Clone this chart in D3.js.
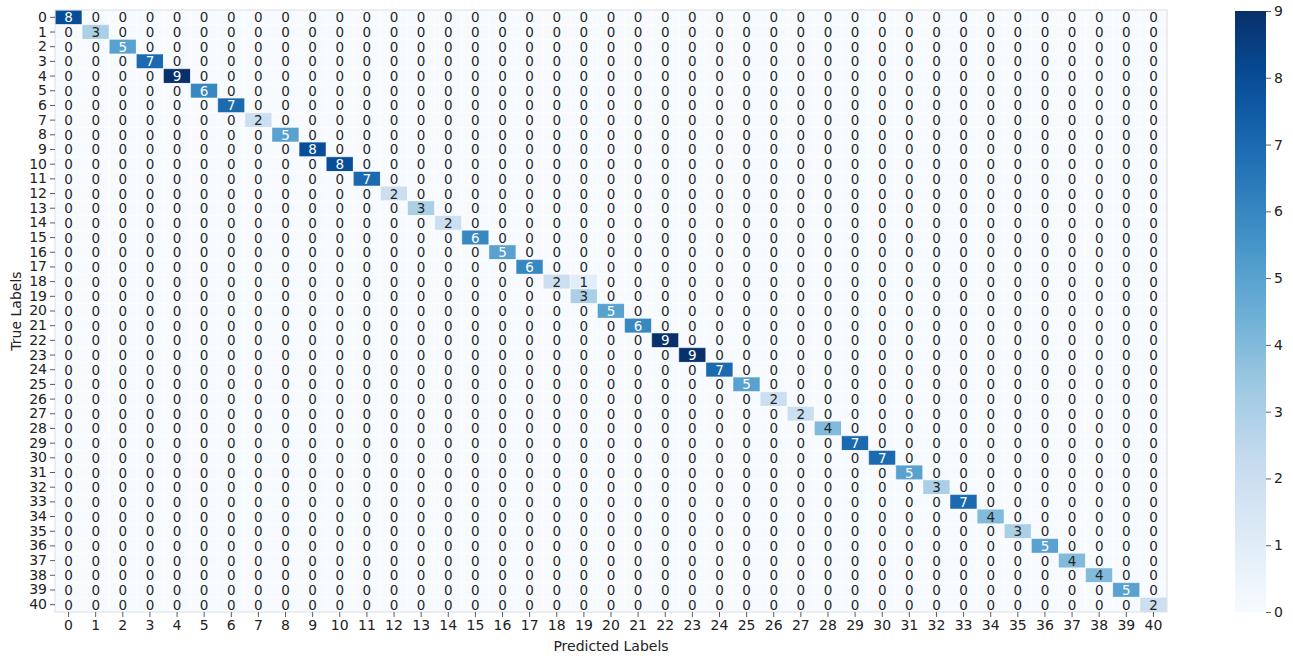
<!DOCTYPE html>
<html>
<head>
<meta charset="utf-8">
<script src="https://cdn.jsdelivr.net/npm/d3@7"></script>
<style>
  html, body { margin: 0; padding: 0; background: #fff; }
  svg { display: block; font-family: "DejaVu Sans", sans-serif; }
</style>
</head>
<body>
<svg id="chart" width="1293" height="656"></svg>
<script>
// ---- Data ----
const labels = d3.range(41).map(String);
// diagonal counts (true == predicted)
const diagonal = [8,3,5,7,9,6,7,2,5,8,8,7,2,3,2,6,5,6,2,3,5,6,9,9,7,5,2,2,4,7,7,5,3,7,4,3,5,4,4,5,2];
// off-diagonal non-zero entries: [trueIndex, predIndex, count]
const offDiagonal = [[18, 19, 1]];
const colorTicks = [0,1,2,3,4,5,6,7,8,9];
const vmin = 0, vmax = 9;
const blues = ["#f7fbff","#deebf7","#c6dbef","#9ecae1","#6baed6","#4292c6","#2171b5","#08519c","#08306b"];

// build matrix
const cells = [];
labels.forEach((t, i) => labels.forEach((p, j) => {
  let v = i === j ? diagonal[i] : 0;
  offDiagonal.forEach(o => { if (o[0] === i && o[1] === j) v = o[2]; });
  cells.push({ t, p, v });
}));

// ---- Layout ----
const svg = d3.select("#chart");
const mLeft = 55, mRight = 1167, mTop = 10, mBottom = 612;

const x = d3.scaleBand().domain(labels).range([mLeft, mRight]);
const y = d3.scaleBand().domain(labels).range([mTop, mBottom]);
const interp = d3.piecewise(d3.interpolateRgb, blues);
const color = v => interp((v - vmin) / (vmax - vmin));

function luminance(c) {
  const rgb = d3.rgb(c);
  const f = u => { u /= 255; return u <= 0.03928 ? u / 12.92 : Math.pow((u + 0.055) / 1.055, 2.4); };
  return 0.2126 * f(rgb.r) + 0.7152 * f(rgb.g) + 0.0722 * f(rgb.b);
}

const g = svg.append("g");
g.selectAll("rect.cell").data(cells).join("rect")
  .attr("class", "cell")
  .attr("x", d => x(d.p))
  .attr("y", d => y(d.t))
  .attr("width", x.bandwidth())
  .attr("height", y.bandwidth())
  .attr("fill", d => color(d.v))
  .attr("stroke", "rgba(255,255,255,0.45)")
  .attr("stroke-width", 1);

g.selectAll("text.ann").data(cells).join("text")
  .attr("class", "ann")
  .attr("x", d => x(d.p) + x.bandwidth() / 2)
  .attr("y", d => y(d.t) + y.bandwidth() / 2)
  .attr("text-anchor", "middle")
  .attr("dominant-baseline", "central")
  .attr("font-size", 13.5)
  .attr("fill", d => luminance(color(d.v)) > 0.408 ? "#262626" : "#ffffff")
  .text(d => d.v);

// frame
svg.append("rect")
  .attr("x", mLeft).attr("y", mTop)
  .attr("width", mRight - mLeft).attr("height", mBottom - mTop)
  .attr("fill", "none").attr("stroke", "#d9dde3").attr("stroke-width", 1);

// axes
const xAxis = svg.append("g").attr("transform", `translate(0,${mBottom})`)
  .call(d3.axisBottom(x).tickSize(5).tickPadding(3));
const yAxis = svg.append("g").attr("transform", `translate(${mLeft},0)`)
  .call(d3.axisLeft(y).tickSize(5).tickPadding(3));
[xAxis, yAxis].forEach(a => {
  a.select(".domain").remove();
  a.selectAll(".tick line").attr("stroke", "#333").attr("stroke-width", 0.8);
  a.selectAll(".tick text").attr("font-size", 14).attr("fill", "#222")
    .attr("font-family", "DejaVu Sans, sans-serif");
});

svg.append("text")
  .attr("x", (mLeft + mRight) / 2).attr("y", 651)
  .attr("text-anchor", "middle").attr("font-size", 14).attr("fill", "#222")
  .text("Predicted Labels");
svg.append("text")
  .attr("transform", `translate(21,${(mTop + mBottom) / 2}) rotate(-90)`)
  .attr("text-anchor", "middle").attr("font-size", 14).attr("fill", "#222")
  .text("True Labels");

// colorbar
const cbX = 1235, cbW = 31, cbTop = 11, cbBottom = 612;
const defs = svg.append("defs");
const grad = defs.append("linearGradient").attr("id", "cbgrad")
  .attr("x1", 0).attr("y1", 1).attr("x2", 0).attr("y2", 0);
d3.range(0, 1.0001, 0.05).forEach(s => {
  grad.append("stop").attr("offset", s).attr("stop-color", interp(s));
});
svg.append("rect").attr("x", cbX).attr("y", cbTop).attr("width", cbW).attr("height", cbBottom - cbTop)
  .attr("fill", "url(#cbgrad)");
const cScale = d3.scaleLinear().domain([vmin, vmax]).range([cbBottom, cbTop]);
const cAxis = svg.append("g").attr("transform", `translate(${cbX + cbW},0)`)
  .call(d3.axisRight(cScale).tickValues(colorTicks).tickFormat(d3.format("d")).tickSize(5).tickPadding(3));
cAxis.select(".domain").remove();
cAxis.selectAll(".tick line").attr("stroke", "#333").attr("stroke-width", 0.8);
cAxis.selectAll(".tick text").attr("font-size", 14).attr("fill", "#222")
  .attr("font-family", "DejaVu Sans, sans-serif");
</script>
</body>
</html>
